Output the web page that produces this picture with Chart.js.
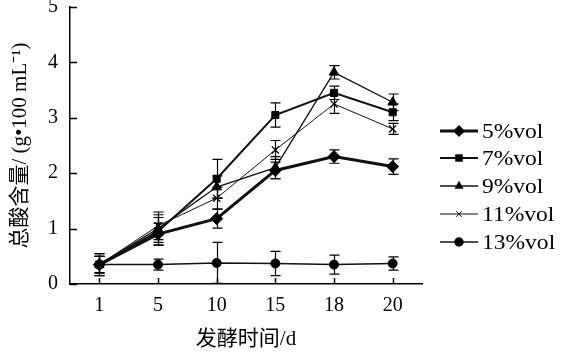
<!DOCTYPE html>
<html><head><meta charset="utf-8">
<script src="https://cdn.jsdelivr.net/npm/chart.js@4"></script>
<style>html,body{margin:0;padding:0;background:#fff}#wrap{width:566px;height:352px;position:relative}</style>
</head><body><div id="wrap"><canvas id="c" width="566" height="352"></canvas></div>
<script>
const categories = ['1','5','10','15','18','20'];
const yTicks = [0,1,2,3,4,5];
const seriesNames = ['5%vol','7%vol','9%vol','11%vol','13%vol'];
const v5  = [0.35, 0.90, 1.18, 2.05, 2.30, 2.12];
const v7  = [0.35, 0.95, 1.90, 3.05, 3.45, 3.10];
const v9  = [0.35, 1.00, 1.75, 2.10, 3.82, 3.28];
const v11 = [0.35, 1.05, 1.55, 2.42, 3.25, 2.80];
const v13 = [0.35, 0.35, 0.38, 0.37, 0.35, 0.37];
const e5  = [0.15, 0.20, 0.17, 0.15, 0.12, 0.14];
const e7  = [0.20, 0.25, 0.35, 0.22, 0.12, 0.15];
const e9  = [0.15, 0.25, 0.20, 0.20, 0.12, 0.15];
const e11 = [0.15, 0.25, 0.20, 0.17, 0.17, 0.10];
const e13 = [0.20, 0.10, 0.37, 0.22, 0.17, 0.12];

const values = [v5, v7, v9, v11, v13];
const errors = [e5, e7, e9, e11, e13];
const styles = [
  {ps:'rectRot', r:6, lw:3},
  {ps:'rect', r:5, lw:2},
  {ps:'triangle', r:5.5, lw:1.3},
  {ps:'crossRot', r:5, lw:1},
  {ps:'circle', r:4.5, lw:1.5}
];
const serif = '"Liberation Serif", "Noto Sans CJK SC", serif';

const datasets = values.map((v,i)=>({
  label: seriesNames[i], data: v,
  borderColor:'#111', backgroundColor:'#000', borderWidth: styles[i].lw,
  pointStyle: styles[i].ps, pointRadius: styles[i].r, pointBorderWidth: styles[i].ps==='crossRot'?1.3:1,
  pointBorderColor:'#000', pointBackgroundColor:'#000', tension:0, fill:false,
  errors: errors[i]
}));

const errorBars = {
  id:'errorBars',
  beforeDatasetsDraw(chart){
    const ctx = chart.ctx, ys = chart.scales.y;
    ctx.save(); ctx.strokeStyle='#000'; ctx.lineWidth=1.2;
    chart.data.datasets.forEach((ds,i)=>{
      const meta = chart.getDatasetMeta(i);
      meta.data.forEach((pt,j)=>{
        const v = ds.data[j], e = ds.errors[j];
        const x = Math.round(pt.x)+0.5;
        const yt = ys.getPixelForValue(v+e), yb = ys.getPixelForValue(v-e);
        ctx.beginPath();
        ctx.moveTo(x,yt); ctx.lineTo(x,yb);
        ctx.moveTo(x-5,yt); ctx.lineTo(x+5,yt);
        ctx.moveTo(x-5,yb); ctx.lineTo(x+5,yb);
        ctx.stroke();
      });
    });
    ctx.restore();
  }
};

const innerTicks = {
  id:'innerTicks',
  afterDraw(chart){
    const ctx = chart.ctx, xs = chart.scales.x, ys = chart.scales.y, a = chart.chartArea;
    ctx.save(); ctx.strokeStyle='#000'; ctx.lineWidth=1.5;
    ctx.beginPath();
    ys.ticks.forEach((t,k)=>{
      const y = Math.round(ys.getPixelForTick(k))+0.5;
      ctx.moveTo(a.left, y); ctx.lineTo(a.left+7, y);
    });
    xs.ticks.forEach((t,k)=>{
      const x = Math.round(xs.getPixelForTick(k))+0.5;
      ctx.moveTo(x, a.bottom); ctx.lineTo(x, a.bottom-6);
    });
    ctx.stroke();
    // legend
    const lx0 = 440, lx1 = 478, tx = 482, ys0 = [131,158,186,214,242];
    chart.data.datasets.forEach((ds,i)=>{
      const y = ys0[i];
      ctx.strokeStyle='#111'; ctx.lineWidth = ds.borderWidth;
      ctx.beginPath(); ctx.moveTo(lx0,y); ctx.lineTo(lx1,y); ctx.stroke();
      Chart.helpers.drawPoint(ctx, {pointStyle: ds.pointStyle, radius: 4, borderWidth: ds.pointBorderWidth}, (lx0+lx1)/2, y);
      ctx.fillStyle='#000';
      if (ds.pointStyle!=='crossRot') ctx.fill();
      ctx.save();
      ctx.translate(tx, y+1); ctx.scale(1.12, 1);
      ctx.font = '21px ' + serif; ctx.textBaseline='middle'; ctx.textAlign='left';
      ctx.fillText(ds.label, 0, 0);
      ctx.restore();
    });
    ctx.restore();
  }
};

new Chart(document.getElementById('c'), {
  type:'line',
  data:{labels: categories, datasets},
  options:{
    responsive:false, animation:false,
    layout:{padding:{left:0, right:144, top:7, bottom:0}},
    plugins:{legend:{display:false}, tooltip:{enabled:false}},
    scales:{
      x:{
        type:'category', offset:true,
        grid:{display:false, tickLength:0},
        border:{display:true, color:'#000', width:1.5},
        ticks:{color:'#000', font:{family:serif, size:20}, padding:10, maxRotation:0},
        title:{display:true, text:'发酵时间/d', color:'#000', font:{family:serif, size:21}, padding:{top:4,bottom:0}},
        afterFit(s){ s.height = 68; s.paddingLeft = 0; s.paddingRight = 0; }
      },
      y:{
        min:0, max:5,
        afterBuildTicks(s){ s.ticks = yTicks.map(v=>({value:v})); },
        grid:{display:false, tickLength:0},
        border:{display:true, color:'#000', width:1.5},
        ticks:{color:'#000', font:{family:serif, size:20}, padding:12},
        title:{display:true, text:'总酸含量/ (g•100 mL⁻¹)', color:'#000', font:{family:serif, size:21}, padding:{top:8,bottom:0}},
        afterFit(s){ s.width = 70; s.paddingTop = 0; s.paddingBottom = 0; }
      }
    }
  },
  plugins:[errorBars, innerTicks]
});
</script></body></html>
